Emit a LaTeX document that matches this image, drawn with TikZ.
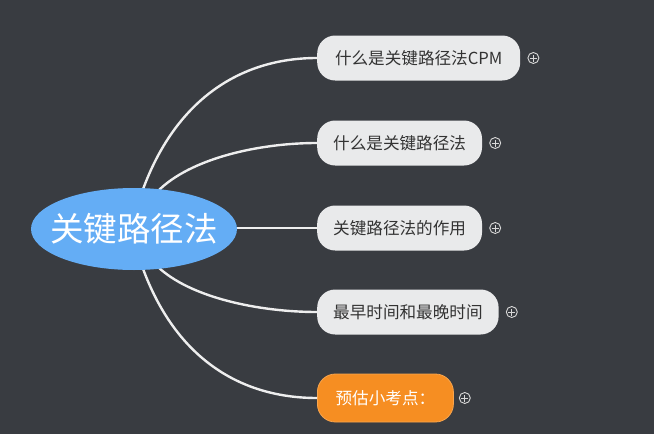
\documentclass[tikz,border=0pt]{standalone}
\usepackage{fontspec}
\setmainfont{Noto Sans CJK SC}
\definecolor{bgc}{HTML}{393C41}
\definecolor{rootc}{HTML}{64ADF5}
\definecolor{topicc}{HTML}{E9EAEB}
\definecolor{orangec}{HTML}{F68E22}
\definecolor{txtc}{HTML}{333333}
\definecolor{linec}{HTML}{EEEEEE}
\definecolor{plusc}{HTML}{D8D8D8}
\tikzset{
  roottext/.style={text=white, font=\fontsize{33.5}{38}\selectfont, inner sep=0pt},
  topic/.style={rounded corners=18pt, fill=topicc, minimum height=45pt, inner xsep=16pt,
    text=txtc, font=\fontsize{16.6}{20}\selectfont, anchor=west},
  hot/.style={topic, minimum height=48pt, minimum width=136pt, fill=orangec, text=white, draw=orangec!80!white, line width=0.8pt},
  conn/.style={draw=linec, line width=2.4pt},
  plusicon/.style={circle, draw=plusc, line width=0.9pt, minimum size=11pt, inner sep=0pt,
    path picture={\draw[plusc, line width=0.9pt] ([xshift=-3.5pt]path picture bounding box.center) -- ([xshift=3.5pt]path picture bounding box.center)
      ([yshift=-3.5pt]path picture bounding box.center) -- ([yshift=3.5pt]path picture bounding box.center);}}
}
\begin{document}
\begin{tikzpicture}[x=1pt,y=-1pt]
\fill[bgc] (0,0) rectangle (654,434);
\useasboundingbox (0,0) rectangle (654,434);

\coordinate (rootc) at (134,229);
\coordinate (rooteast) at (237,228);

\node[topic, minimum width=203pt] (t1) at (317,58) {什么是关键路径法CPM};
\node[topic] (t2) at (317,143) {什么是关键路径法};
\node[topic] (t3) at (317,228) {关键路径法的作用};
\node[topic] (t4) at (317,312) {最早时间和最晚时间};
\node[hot] (t5) at (317,398) {预估小考点：};

\node[plusicon] (p1) at ([xshift=13pt]t1.east) {};
\node[plusicon] (p2) at ([xshift=13pt]t2.east) {};
\node[plusicon] (p3) at ([xshift=13pt]t3.east) {};
\node[plusicon] (p4) at ([xshift=13pt]t4.east) {};
\node[plusicon] (p5) at ([xshift=11pt]t5.east) {};

\coordinate (s1) at (142,192);
\coordinate (s2) at (157,192);
\coordinate (s4) at (157,266);
\coordinate (s5) at (142,266);

\path[conn] (s1) .. controls (175,100) and (240,58) .. (t1.west);
\path[conn] (s2) .. controls (190,158) and (260,143) .. (t2.west);
\path[conn] (rooteast) -- (t3.west);
\path[conn] (s4) .. controls (190,298) and (260,312) .. (t4.west);
\path[conn] (s5) .. controls (175,358) and (240,398) .. (t5.west);

\fill[rootc] (rootc) ellipse [x radius=103, y radius=41];
\node[roottext] (root) at (rootc) {关键路径法};
\end{tikzpicture}
\end{document}
